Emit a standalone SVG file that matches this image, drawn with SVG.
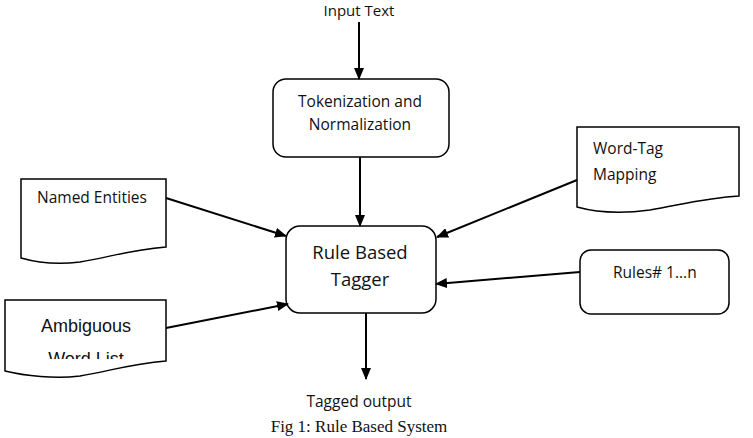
<svg xmlns="http://www.w3.org/2000/svg" width="753" height="438" viewBox="0 0 753 438">
<style>
.box{fill:#fff;stroke:#000;stroke-width:1.5}
.doc{fill:#fff;stroke:#000;stroke-width:1.5}
.t{font-family:"Open Sans","Liberation Sans",sans-serif;font-size:15.5px;fill:#111}
.a{font-family:"Liberation Sans",Arial,sans-serif;font-size:18px;fill:#111}
.c{stroke:#000;stroke-width:2;fill:none;marker-end:url(#ah)}
</style>
<defs>
<marker id="ah" markerWidth="12" markerHeight="10" refX="11" refY="5" orient="auto" markerUnits="userSpaceOnUse">
<path d="M0,0 L12,5 L0,10 Z" fill="#000"/>
</marker>
<clipPath id="wl"><rect x="0" y="300" width="200" height="59"/></clipPath>
</defs>
<rect width="753" height="438" fill="#fff"/>
<g id="input"><text class="t" x="359" y="16" text-anchor="middle" style="font-size:15px">Input Text</text></g>
<g id="tokenization">
<rect class="box" x="273" y="79" width="176" height="78" rx="13"/>
<text class="t" x="360" y="107" text-anchor="middle">Tokenization and</text>
<text class="t" x="360" y="130" text-anchor="middle">Normalization</text>
</g>
<g id="tagger">
<rect class="box" x="286" y="226" width="150" height="87" rx="14"/>
<text class="t" x="360" y="259" text-anchor="middle" style="font-size:18.5px">Rule Based</text>
<text class="t" x="360" y="286" text-anchor="middle" style="font-size:18.5px">Tagger</text>
</g>
<g id="named">
<path class="doc" d="M21,179 H166 V247 C130,250 110,257 80,262 C55,265 35,262 21,258 Z"/>
<text class="t" x="37" y="203">Named Entities</text>
</g>
<g id="ambiguous">
<path class="doc" d="M5,300 H166 V361 C130,364 110,371 80,376 C55,379 25,376 5,371 Z"/>
<text class="a" x="86" y="332" text-anchor="middle">Ambiguous</text>
<text class="a" x="86" y="365" text-anchor="middle" clip-path="url(#wl)">Word  List</text>
</g>
<g id="wordtag">
<path class="doc" d="M577,127 H739 V196 C705,198 680,205 650,210 C620,214 595,212 577,207 Z"/>
<text class="t" x="593" y="154">Word-Tag</text>
<text class="t" x="593" y="180">Mapping</text>
</g>
<g id="rules">
<rect class="box" x="580" y="250" width="149" height="64" rx="11"/>
<text class="t" x="613" y="278">Rules# 1...n</text>
</g>
<g id="output"><text class="t" x="359" y="407" text-anchor="middle">Tagged output</text></g>
<text x="359" y="432" text-anchor="middle" style="font-family:'Liberation Serif','Times New Roman',serif;font-size:17px;fill:#111">Fig 1: Rule Based System</text>
<g id="connectors">
<line class="c" x1="359" y1="22" x2="359" y2="79"/>
<line class="c" x1="360" y1="157" x2="360" y2="226"/>
<line class="c" x1="366" y1="313" x2="366" y2="379"/>
<line class="c" x1="166" y1="198" x2="286" y2="236"/>
<line class="c" x1="166" y1="328" x2="288" y2="304"/>
<line class="c" x1="577" y1="180" x2="437" y2="237"/>
<line class="c" x1="580" y1="272" x2="436" y2="284"/>
</g>
</svg>
